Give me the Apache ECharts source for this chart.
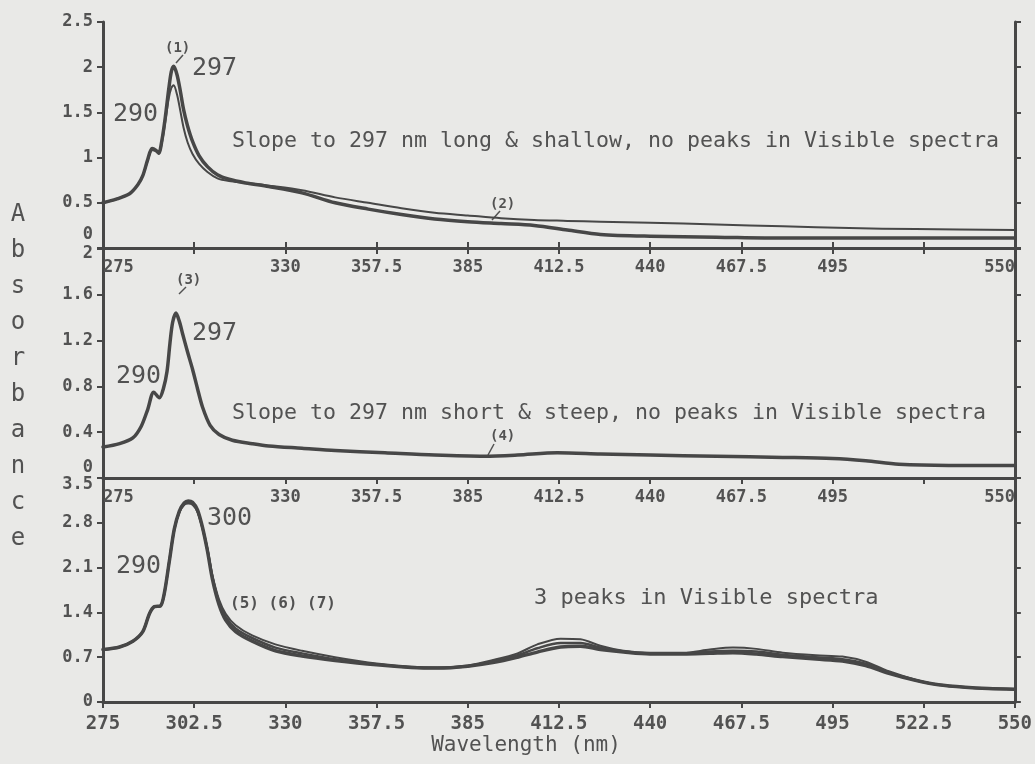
<!DOCTYPE html>
<html>
<head>
<meta charset="utf-8">
<script src="https://cdn.jsdelivr.net/npm/echarts@6/dist/echarts.min.js"></script>
<style>
  html, body { margin: 0; padding: 0; background: #e9e9e7; }
  #chart { width: 1035px; height: 764px; }
</style>
</head>
<body>
<div id="chart"></div>
<script>
// wavelength ticks (nm)
var xMin = 275, xMax = 550, xStep = 27.5;

// panel 1: two samples, (1) and (2)
var wl1 = [275, 279, 283, 285.5, 287, 288.5, 289.8, 291, 291.8, 292.8,
  293.8, 294.8, 295.6, 296.3, 297.3, 298.3, 299.3, 300.5, 302, 304,
  306.5, 309.5, 313, 318, 325, 335, 345, 355, 365, 375,
  385, 395, 405, 415, 425, 440, 460, 480, 500, 520, 550];
var abs1 = [0.50, 0.54, 0.60, 0.70, 0.80, 0.98, 1.10, 1.08, 1.05, 1.20,
  1.45, 1.75, 1.95, 2.01, 1.92, 1.74, 1.53, 1.35, 1.18, 1.02,
  0.90, 0.81, 0.76, 0.72, 0.68, 0.61, 0.50, 0.43, 0.37, 0.32,
  0.29, 0.27, 0.25, 0.20, 0.15, 0.13, 0.12, 0.11, 0.11, 0.11, 0.11];
var abs2 = [0.50, 0.54, 0.60, 0.70, 0.80, 0.97, 1.08, 1.07, 1.04, 1.17,
  1.40, 1.65, 1.77, 1.80, 1.70, 1.52, 1.33, 1.17, 1.04, 0.93,
  0.84, 0.77, 0.74, 0.72, 0.69, 0.64, 0.56, 0.50, 0.44, 0.39,
  0.36, 0.33, 0.31, 0.30, 0.29, 0.28, 0.26, 0.24, 0.22, 0.21, 0.20];

// panel 2: sample (3)/(4)
var wl2 = [275, 280, 284, 286.5, 288.5, 290.3, 292, 293.2, 294.3, 295.2,
  296, 297, 298, 299, 300.5, 302, 303.5, 305, 307.3, 310,
  314, 320, 325, 335, 345, 360, 375, 390, 400, 412,
  425, 440, 460, 480, 495, 505, 515, 530, 550];
var abs3 = [0.27, 0.30, 0.35, 0.45, 0.60, 0.75, 0.70, 0.78, 0.93, 1.18,
  1.36, 1.44, 1.37, 1.26, 1.10, 0.95, 0.78, 0.62, 0.46, 0.38,
  0.33, 0.30, 0.28, 0.26, 0.24, 0.22, 0.20, 0.19, 0.20, 0.22,
  0.21, 0.20, 0.19, 0.18, 0.17, 0.15, 0.12, 0.11, 0.11];

// panel 3: samples (5), (6), (7)
var wl3 = [275, 280, 284, 287, 289, 290.5, 292.3, 293.5, 295, 296.5,
  298, 299.5, 300.7, 302, 303.5, 305, 306.5, 308, 310, 312,
  315, 320, 327, 335, 345, 357.5, 368, 376, 385, 393,
  400, 406, 413, 419, 425, 432, 440, 450, 458, 465,
  472, 480, 490, 498, 505, 512, 520, 527, 535, 542, 550];
var abs5 = [0.82, 0.86, 0.95, 1.10, 1.38, 1.49, 1.50, 1.70, 2.20, 2.70,
  2.96, 3.08, 3.10, 3.08, 2.97, 2.72, 2.40, 1.98, 1.60, 1.38,
  1.20, 1.04, 0.90, 0.80, 0.70, 0.60, 0.55, 0.54, 0.57, 0.66,
  0.76, 0.90, 0.99, 0.98, 0.88, 0.80, 0.77, 0.77, 0.82, 0.85,
  0.83, 0.77, 0.73, 0.71, 0.63, 0.48, 0.35, 0.27, 0.23, 0.21, 0.20];
var abs6 = [0.82, 0.86, 0.95, 1.10, 1.38, 1.49, 1.50, 1.70, 2.20, 2.70,
  2.97, 3.09, 3.12, 3.10, 2.98, 2.72, 2.38, 1.95, 1.56, 1.33,
  1.15, 1.00, 0.85, 0.76, 0.67, 0.59, 0.54, 0.53, 0.56, 0.64,
  0.73, 0.84, 0.92, 0.92, 0.85, 0.79, 0.76, 0.76, 0.79, 0.80,
  0.79, 0.74, 0.70, 0.67, 0.60, 0.46, 0.34, 0.27, 0.23, 0.21, 0.20];
var abs7 = [0.82, 0.86, 0.95, 1.10, 1.38, 1.49, 1.50, 1.70, 2.20, 2.70,
  2.98, 3.11, 3.14, 3.12, 3.00, 2.73, 2.36, 1.92, 1.52, 1.28,
  1.10, 0.95, 0.80, 0.72, 0.65, 0.58, 0.54, 0.53, 0.56, 0.62,
  0.70, 0.78, 0.86, 0.87, 0.82, 0.78, 0.75, 0.75, 0.76, 0.77,
  0.75, 0.71, 0.67, 0.64, 0.57, 0.45, 0.34, 0.27, 0.23, 0.21, 0.20];

// y axis ranges per panel
var yMax = [2.5, 2, 3.5];
var yStep = [0.5, 0.4, 0.7];

var ink = '#474747';
var txt = '#525252';
var mono = '"DejaVu Sans Mono", monospace';

function pairs(xs, ys) {
  return xs.map(function (x, i) { return [x, ys[i]]; });
}

var grids = [
  { left: 103, right: 20, top: 22, height: 226 },
  { left: 103, right: 20, top: 249, height: 229 },
  { left: 103, right: 20, top: 478, height: 224 }
];

// small nudges of the end labels so they do not collide
var yRich = [
  { 0: 'dn13' },
  { 2: 'up5', 0: 'dn10' },
  { 3.5: 'up7' }
];

function yLabel(p) {
  var f = { fontFamily: mono, fontWeight: 'bold', fontSize: 17, color: txt };
  return {
    fontFamily: mono, fontWeight: 'bold', fontSize: 17, color: txt, margin: 10,
    formatter: function (v) {
      var k = yRich[p][v];
      return k ? '{' + k + '|' + v + '}' : String(v);
    },
    rich: {
      dn13: Object.assign({ padding: [0, 0, 26, 0] }, f),
      dn10: Object.assign({ padding: [0, 0, 20, 0] }, f),
      up5: Object.assign({ padding: [10, 0, 0, 0] }, f),
      up7: Object.assign({ padding: [14, 0, 0, 0] }, f)
    }
  };
}

var axisLine = { show: true, lineStyle: { color: ink, width: 3 } };
var tick = { show: true, length: 6, lineStyle: { color: ink, width: 2 } };

var xAxes = [], yAxes = [];
[0, 1, 2].forEach(function (p) {
  var last = p === 2;
  xAxes.push({
    type: 'value', gridIndex: p, min: xMin, max: xMax, interval: xStep,
    axisLine: axisLine, axisTick: tick, splitLine: { show: false },
    axisLabel: {
      fontFamily: mono, fontWeight: 'bold', color: txt,
      fontSize: last ? 19 : 17, margin: last ? 13 : 11,
      alignMinLabel: last ? 'center' : 'left',
      alignMaxLabel: last ? 'center' : 'right',
      formatter: function (v) {
        if (!last && (v === 302.5 || v === 522.5)) return '';
        return String(v);
      }
    }
  });
  yAxes.push({
    type: 'value', gridIndex: p, min: 0, max: yMax[p], interval: yStep[p],
    axisLine: axisLine, axisTick: tick, splitLine: { show: false },
    axisLabel: yLabel(p)
  });
  yAxes.push({
    type: 'value', gridIndex: p, position: 'right', min: 0, max: yMax[p], interval: yStep[p],
    axisLine: axisLine, axisTick: tick, splitLine: { show: false },
    axisLabel: { show: false }
  });
});
// top frame of the first panel
xAxes.push({
  type: 'value', gridIndex: 0, position: 'top', min: xMin, max: xMax, interval: xStep,
  axisLine: axisLine, axisTick: tick, splitLine: { show: false }, axisLabel: { show: false }
});

function line(name, p, xs, ys, w) {
  return {
    name: name, type: 'line', xAxisIndex: p, yAxisIndex: p * 2,
    data: pairs(xs, ys), showSymbol: false, smooth: 0.3,
    lineStyle: { color: ink, width: w, join: 'round', cap: 'round' },
    silent: true, z: w > 3 ? 3 : 4
  };
}

var series = [
  line('(1)', 0, wl1, abs1, 3.5),
  line('(2)', 0, wl1, abs2, 2),
  line('(3)', 1, wl2, abs3, 3.5),
  line('(5)', 2, wl3, abs5, 2),
  line('(6)', 2, wl3, abs6, 2.5),
  line('(7)', 2, wl3, abs7, 3.5)
];

function label(text, x, y, size, align, bold) {
  return {
    type: 'text', silent: true,
    style: {
      text: text, x: x, y: y, fill: txt,
      font: (bold ? 'bold ' : '') + size + 'px ' + mono,
      textAlign: align || 'left', textVerticalAlign: 'middle'
    }
  };
}
function leader(x1, y1, x2, y2) {
  return {
    type: 'line', silent: true,
    shape: { x1: x1, y1: y1, x2: x2, y2: y2 },
    style: { stroke: txt, lineWidth: 1.5 }
  };
}

var graphics = [
  label('Slope to 297 nm long & shallow, no peaks in Visible spectra', 232, 141, 21.6),
  label('290', 113, 114, 25),
  label('297', 192, 68, 25),
  label('(1)', 165, 48, 14, 'left', true),
  leader(183, 55, 176, 63),
  label('(2)', 490, 204, 14, 'left', true),
  leader(500, 211, 492, 220),

  label('(3)', 176, 280, 14, 'left', true),
  leader(186, 287, 179, 294),
  label('297', 192, 333, 25),
  label('290', 116, 376, 25),
  label('Slope to 297 nm short & steep, no peaks in Visible spectra', 232, 413, 21.6),
  label('(4)', 490, 436, 14, 'left', true),
  leader(494, 444, 488, 455),

  label('300', 207, 518, 25),
  label('290', 116, 566, 25),
  label('(5) (6) (7)', 230, 604, 16, 'left', true),
  label('3 peaks in Visible spectra', 534, 598, 22),

  label('Wavelength (nm)', 526, 746, 21, 'center')
];
// vertical axis title, one letter per row
'Absorbance'.split('').forEach(function (ch, i) {
  graphics.push(label(ch, 18, 215 + i * 36, 24, 'center'));
});

var chart = echarts.init(document.getElementById('chart'));
chart.setOption({
  backgroundColor: '#e9e9e7',
  animation: false,
  grid: grids,
  xAxis: xAxes,
  yAxis: yAxes,
  series: series,
  graphic: graphics
});
</script>
</body>
</html>
